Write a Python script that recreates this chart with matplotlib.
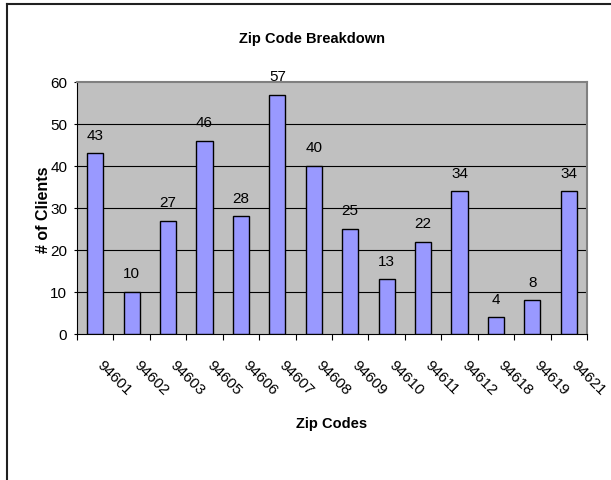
import matplotlib
matplotlib.use("Agg")
import matplotlib.pyplot as plt
from matplotlib.lines import Line2D

zip_codes = ["94601", "94602", "94603", "94605", "94606", "94607", "94608",
             "94609", "94610", "94611", "94612", "94618", "94619", "94621"]
clients = [43, 10, 27, 46, 28, 57, 40, 25, 13, 22, 34, 4, 8, 34]
y_ticks = [0, 10, 20, 30, 40, 50, 60]

plt.rcParams['font.family'] = ["Liberation Sans", "DejaVu Sans"]

W, H = 611, 481
fig = plt.figure(figsize=(W / 100, H / 100), dpi=100)
fig.patch.set_facecolor("white")

L, R, T, B = 77, 587, 83, 335
ax = fig.add_axes([L / W, 1 - B / H, (R - L) / W, (B - T) / H])
ax.set_facecolor("#C0C0C0")

x = list(range(len(zip_codes)))
ax.bar(x, clients, width=0.44, color="#9999FF", edgecolor="black", linewidth=1.0, zorder=3)

ax.set_xlim(-0.5, len(zip_codes) - 0.5)
ax.set_ylim(0, 60)
ax.set_yticks(y_ticks)
ax.set_yticklabels([str(v) for v in y_ticks], fontsize=11)
for v in y_ticks[1:-1]:
    ax.axhline(v, color="black", linewidth=0.8, zorder=1)

ax.set_xticks([i - 0.5 for i in range(len(zip_codes) + 1)])
ax.set_xticklabels([])
ax.tick_params(axis="x", direction="out", length=4, width=0.8, color="black")
ax.tick_params(axis="y", direction="out", length=2.5, width=0.8, color="black", pad=4.5)

for s in ["top", "right"]:
    ax.spines[s].set_color("#808080")
    ax.spines[s].set_linewidth(1.5)
for s in ["left", "bottom"]:
    ax.spines[s].set_color("black")
    ax.spines[s].set_linewidth(0.8)

for xi, v in zip(x, clients):
    ax.annotate(str(v), (xi, v), xytext=(0, 10.5), textcoords="offset points",
                ha="center", va="baseline", fontsize=11, zorder=4, annotation_clip=False)

for xi, lab in zip(x, zip_codes):
    ax.annotate(lab, (xi, 0), xytext=(6.6, -16.6), textcoords="offset points",
                ha="left", va="top", rotation=-45, rotation_mode="anchor",
                fontsize=11, annotation_clip=False)

fig.text(312 / W, 1 - 43 / H, "Zip Code Breakdown", ha="center", va="baseline",
         fontsize=10.5, fontweight="bold")
fig.text(332 / W, 1 - 428 / H, "Zip Codes", ha="center", va="baseline",
         fontsize=10.5, fontweight="bold")
fig.text(43 / W, 1 - 210 / H, "# of Clients", ha="center", va="center",
         rotation=90, fontsize=11.5, fontweight="bold")

fig.add_artist(Line2D([7 / W, 7 / W], [0, 1 - 5 / H], transform=fig.transFigure,
                      color="#202020", linewidth=1.5))
fig.add_artist(Line2D([7 / W, 1], [1 - 5 / H, 1 - 5 / H], transform=fig.transFigure,
                      color="#202020", linewidth=1.5))

fig.savefig("out.png", dpi=100)
